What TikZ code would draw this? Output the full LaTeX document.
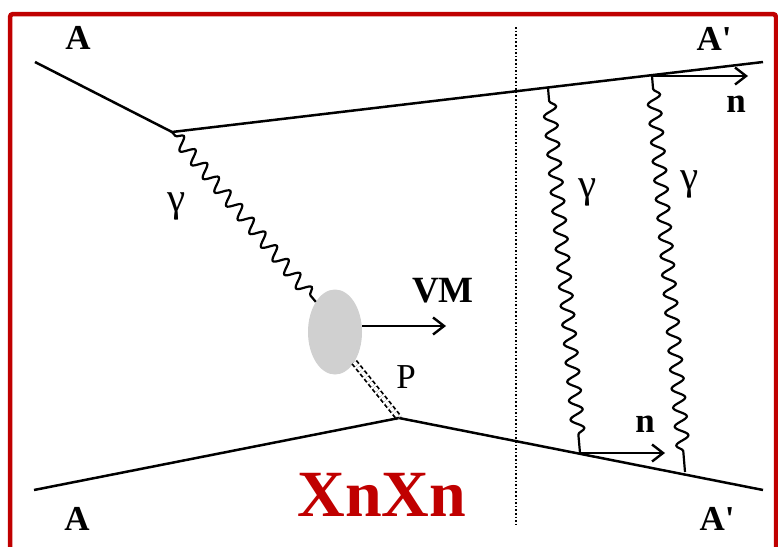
\documentclass[tikz,border=0pt]{standalone}
\usepackage{fontspec}
\setmainfont{Liberation Serif}
\newfontfamily\plainserif{Liberation Serif}[Ligatures=TeXOff]
\usetikzlibrary{decorations.pathmorphing,arrows.meta,shapes.geometric}
\definecolor{frame}{RGB}{192,0,0}
\definecolor{blob}{RGB}{208,208,208}
\begin{document}
\begin{tikzpicture}[x=1pt,y=-1pt,
  line/.style={line width=2.5pt},
  photon/.style={line width=2.2pt, decorate, decoration={snake, amplitude=6.5pt, segment length=19pt, pre length=13pt, post length=12pt}},
  arr/.style={line width=2.4pt, -{Straight Barb[length=11pt,width=17pt,line width=2.4pt]}},
  lab/.style={font=\fontsize{35}{35}\selectfont\bfseries, inner sep=0pt},
  glab/.style={font=\fontsize{41}{41}\selectfont, inner sep=0pt}]
\useasboundingbox (0,0) rectangle (778,546);
\clip (0,0) rectangle (778,546);
\draw[frame, line width=4.5pt, rounded corners=3pt] (10,14) rectangle (776,580);
% vertices
\coordinate (inTL) at (35,62);
\coordinate (vT) at (172,132);
\coordinate (outTR) at (763,62);
\coordinate (inBL) at (34,490);
\coordinate (vB) at (399,418);
\coordinate (outBR) at (763,490);
\coordinate (g1t) at (548,88);
\coordinate (g1b) at (580,453);
\coordinate (g2t) at (652,76);
\coordinate (g2b) at (685,472);
\coordinate (n1e) at (748,76);
\coordinate (n2e) at (665,453);
\coordinate (dtop) at (516,27);
\coordinate (dbot) at (516,526);
\node[ellipse, fill=blob, minimum width=54pt, minimum height=85pt, inner sep=0pt] (vm) at (335,332) {};
\coordinate (vme) at (446,326);
% lines
\draw[line] (inTL) -- (vT) -- (outTR);
\draw[line] (inBL) -- (vB) -- (outBR);
\draw[line width=1.6pt, dotted] (dtop) -- (dbot);
% photons
\draw[photon, decoration={pre length=5pt, post length=3pt, segment length=18pt}] (vT) -- (vm.north west);
\draw[photon] (g1t) -- (g1b);
\draw[photon] (g2t) -- (g2b);
% pomeron
\draw[line width=1.8pt, dash pattern=on 4pt off 2.5pt, double, double distance=3.5pt] (vm.south east) -- (vB);
% arrows
\draw[arr] (vm.east |- vme) -- (vme);
\draw[arr] (g2t) -- (n1e);
\draw[arr] (g1b) -- (n2e);
% labels
\node[lab] (lA1) at (78,38) {A};
\node[lab, font=\fontsize{35}{35}\plainserif\bfseries] (lA2) at (714,39) {A'};
\node[lab] (lA3) at (77,519) {A};
\node[lab, font=\fontsize{35}{35}\plainserif\bfseries] (lA4) at (717,519) {A'};
\node[lab, font=\fontsize{37}{37}\selectfont\bfseries] (lVM) at (443,291) {VM};
\node[lab] (ln1) at (736,104) {n};
\node[lab] (ln2) at (645,424) {n};
\node[font=\fontsize{35}{35}\selectfont, inner sep=0pt] (lP) at (406,377) {P};
\node[glab] (g0) at (177,206) {γ};
\node[glab] (g1) at (588,192) {γ};
\node[glab] (g2) at (690,184) {γ};
\node[font=\fontsize{66}{66}\selectfont\bfseries, text=frame, inner sep=0pt] (xn) at (382,495) {XnXn};
\end{tikzpicture}
\end{document}
